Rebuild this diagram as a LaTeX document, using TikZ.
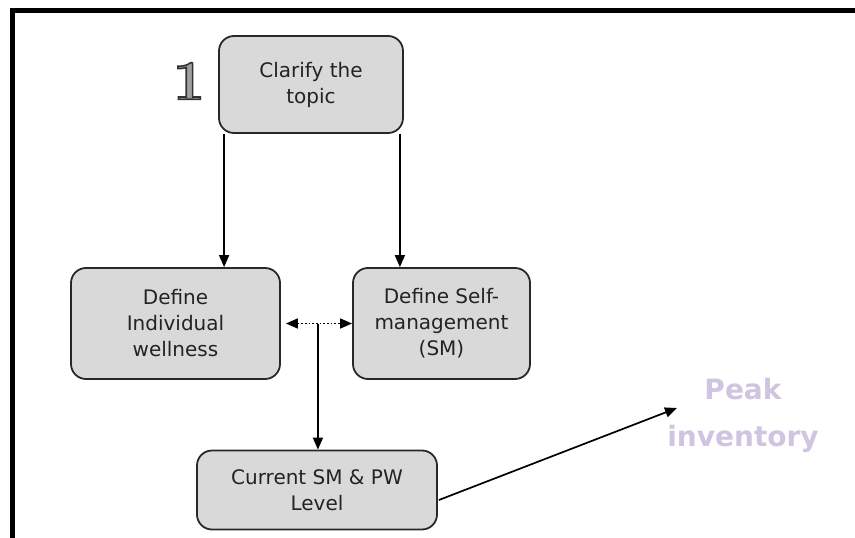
\documentclass[tikz,border=0pt]{standalone}
\usepackage{fontspec}
\setmainfont{DejaVu Sans}
\newfontfamily\numfont{Latin Modern Roman}
\usetikzlibrary{arrows.meta,calc}

\definecolor{boxfill}{RGB}{217,217,217}
\definecolor{boxline}{RGB}{40,40,40}
\definecolor{boxtext}{RGB}{35,35,35}
\definecolor{peakcol}{RGB}{206,197,224}
\definecolor{numfill}{RGB}{160,160,160}

% glyphs filled with the current colour and stroked in dark grey
\newcommand{\outlinedglyph}[1]{%
  \special{pdf:literal direct 2 Tr 1.6 w 0.2 0.2 0.2 RG}#1\special{pdf:literal direct 0 Tr}}

\tikzset{
  stepbox/.style={draw=boxline, line width=1.8pt, fill=boxfill, rounded corners=15pt,
    text=boxtext, align=center, inner sep=0pt,
    font=\fontsize{20}{26}\selectfont},
  arr/.style={line width=1.7pt, -{Triangle[length=12pt,width=10pt]}},
  dblarr/.style={line width=1.7pt, dotted, {Triangle[length=12pt,width=10pt]}-{Triangle[length=12pt,width=10pt]}},
  frameline/.style={line width=5pt, black},
}

\begin{document}
\begin{tikzpicture}[x=1pt, y=-1pt]
  \useasboundingbox (0,0) rectangle (855,538);
  \fill[white] (0,0) rectangle (855,538);

  % outer frame: only the top and left edges fall inside the page
  \draw[frameline] (12.5,560) -- (12.5,10.5) -- (880,10.5);

  % step number
  \node[text=numfill, font=\numfont\bfseries\fontsize{56}{56}\selectfont, inner sep=0pt]
    (num) at (189,81) {\outlinedglyph{1}};

  % steps
  \node[stepbox, minimum width=184pt, minimum height=97pt] (clarify) at (311,84.5)
    {Clarify the\\topic};
  \node[stepbox, minimum width=209pt, minimum height=111pt] (indiv) at (175.5,323.5)
    {Define\\Individual\\wellness};
  \node[stepbox, minimum width=177pt, minimum height=111pt] (self) at (441.5,323.5)
    {Define Self-\\management\\(SM)};
  \node[stepbox, minimum width=240pt, minimum height=79pt] (current) at (317,490)
    {Current SM \& PW\\Level};

  % result label
  \node[text=peakcol, font=\bfseries\fontsize{28}{47}\selectfont, align=center, inner sep=0pt]
    (peak) at (743,415) {Peak\\inventory};

  % connectors
  \draw[arr] ([xshift=6pt]clarify.south west) -- ([xshift=6pt]clarify.south west |- indiv.north);
  \draw[arr] ([xshift=-4pt]clarify.south east) -- ([xshift=-4pt]clarify.south east |- self.north);
  \draw[dblarr] ([xshift=5pt]indiv.east) -- (self.west);
  \coordinate (join) at ($(indiv.east)!0.52!(self.west)$);
  \draw[arr] (join) -- (join |- current.north);
  \coordinate (tip) at (677,408);
  \draw[arr] ([xshift=1pt,yshift=-10pt]current.east) -- (tip);
\end{tikzpicture}
\end{document}
